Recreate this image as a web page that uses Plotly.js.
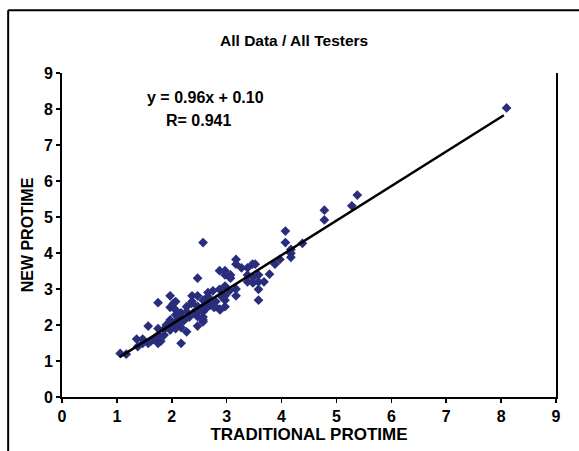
<!DOCTYPE html>
<html>
<head>
<meta charset="utf-8">
<script src="https://cdn.plot.ly/plotly-3.0.1.min.js"></script>
<style>
html,body{margin:0;padding:0;background:#fff;}
#chart{width:579px;height:451px;}
</style>
</head>
<body>
<div id="chart"></div>
<script>
// Traditional protime (x) and new protime (y) readings
const traditional = [1.06,1.17,1.36,1.47,1.38,1.47,1.57,1.57,1.62,1.75,1.75,1.75,1.75,1.86,1.86,1.97,1.97,1.97,1.97,2.07,2.07,2.07,2.07,2.07,2.17,2.17,2.17,2.17,2.27,2.27,2.27,2.37,2.37,2.47,2.47,2.47,2.47,2.47,2.57,2.57,2.57,2.57,2.57,2.57,2.66,2.66,2.66,2.77,2.87,2.87,2.87,2.97,2.97,2.97,2.97,2.97,2.97,3.07,3.07,3.17,3.17,3.17,3.17,3.27,3.38,3.38,3.38,3.47,3.48,3.48,3.52,3.58,3.58,3.58,3.58,3.68,3.78,3.88,3.97,4.07,4.07,4.17,4.17,4.17,4.38,4.78,4.78,5.28,5.38,8.10,1.67,1.90,2.00,2.12,2.22,2.32,2.40,2.50,2.62,2.70,2.80,2.75,3.05,2.90,1.80,2.36,2.03,2.79,2.88,2.57];
const newProtime  = [1.21,1.19,1.61,1.61,1.40,1.49,1.49,1.97,1.55,1.49,1.72,1.90,2.62,1.72,1.88,1.86,2.14,2.49,2.81,1.90,2.09,2.28,2.42,2.65,1.49,1.93,2.19,2.34,1.81,2.37,2.51,2.65,2.81,1.97,2.23,2.52,2.81,3.30,2.14,2.22,2.37,2.51,2.69,4.29,2.60,2.79,2.90,2.49,2.44,2.99,3.51,2.51,2.69,2.81,3.08,3.39,3.51,3.30,3.39,2.81,3.00,3.69,3.82,3.59,3.20,3.39,3.59,3.69,3.17,3.32,3.69,2.69,2.99,3.20,3.39,3.20,3.41,3.69,3.82,4.29,4.61,3.88,3.99,4.10,4.27,4.92,5.19,5.31,5.61,8.03,1.60,2.00,1.95,2.05,2.12,2.22,2.35,2.40,2.45,2.55,2.65,2.95,2.95,2.80,1.55,2.60,2.60,2.51,2.42,2.09];
// Linear fit shown on chart
const slope = 0.96;
const intercept = 0.10;
const fitRange = [1.05, 8.05];
const equationText = "y = 0.96x + 0.10";
const rText = "R= 0.941";
const tickVals = [0,1,2,3,4,5,6,7,8,9];

const fitY = fitRange.map(v => slope * v + intercept);
const FONT = "'Liberation Sans','Arial',sans-serif";

const data = [
  {
    x: traditional, y: newProtime, type: 'scatter', mode: 'markers',
    marker: {symbol: 'diamond', size: 7.5, color: '#2A2D7C', line: {width: 0}},
    hoverinfo: 'x+y', showlegend: false
  },
  {
    x: fitRange, y: fitY, type: 'scatter', mode: 'lines',
    line: {color: '#000', width: 2.5}, showlegend: false, hoverinfo: 'skip'
  }
];

const layout = {
  width: 579, height: 451,
  margin: {l: 62, r: 23, t: 73, b: 54, pad: 0},
  paper_bgcolor: '#fff', plot_bgcolor: '#fff',
  font: {family: FONT, color: '#000', size: 14, weight: 'bold'},
  title: {
    text: 'All Data / All Testers', x: 0.508, xref: 'container',
    y: 0.911, yref: 'container', yanchor: 'middle', xanchor: 'center',
    font: {family: FONT, size: 15.5, weight: 'bold', color: '#000'}
  },
  xaxis: {
    range: [0, 9], tickvals: tickVals, ticktext: tickVals.map(String),
    showgrid: false, zeroline: false, showline: true, linecolor: '#000', linewidth: 2,
    ticks: 'outside', ticklen: 4, tickwidth: 1.5, tickcolor: '#000',
    tickfont: {family: FONT, size: 16, weight: 'bold'},
    title: {text: 'TRADITIONAL PROTIME', standoff: 4, font: {family: FONT, size: 17, weight: 'bold'}}
  },
  yaxis: {
    range: [0, 9], tickvals: tickVals, ticktext: tickVals.map(String),
    showgrid: false, zeroline: false, showline: true, mirror: true, linecolor: '#000', linewidth: 2,
    ticks: 'outside', ticklen: 4, tickwidth: 1.5, tickcolor: '#000',
    tickfont: {family: FONT, size: 16, weight: 'bold'},
    title: {text: 'NEW PROTIME', standoff: 6, font: {family: FONT, size: 16, weight: 'bold'}}
  },
  annotations: [
    {x: 2.62, y: 8.31, xref: 'x', yref: 'y', text: equationText, showarrow: false,
     font: {family: FONT, size: 16, weight: 'bold'}},
    {x: 2.48, y: 7.67, xref: 'x', yref: 'y', text: rText, showarrow: false,
     font: {family: FONT, size: 16, weight: 'bold'}}
  ],
  shapes: [
    {type: 'line', xref: 'paper', yref: 'paper', x0: -0.109, x1: 1.2, y0: 1.194, y1: 1.194,
     line: {color: '#000', width: 2}},
    {type: 'line', xref: 'paper', yref: 'paper', x0: -0.109, x1: -0.109, y0: 1.194, y1: -0.25,
     line: {color: '#000', width: 2}}
  ]
};

Plotly.newPlot('chart', data, layout, {displayModeBar: false, staticPlot: true});
</script>
</body>
</html>
